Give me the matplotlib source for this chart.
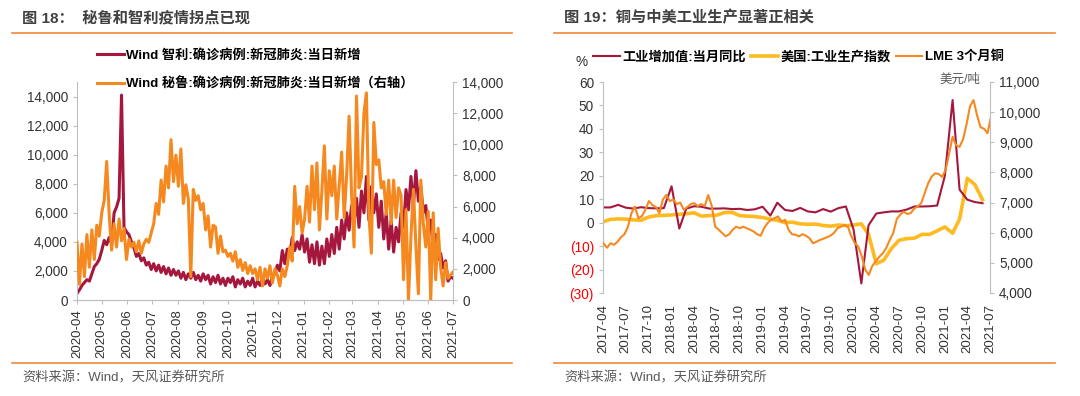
import pandas as pd
import matplotlib
matplotlib.use("Agg")
import matplotlib.pyplot as plt
import matplotlib.dates as mdates
from matplotlib.lines import Line2D
from matplotlib.ticker import FuncFormatter

plt.rcParams['font.family'] = ['Liberation Sans', 'Noto Sans CJK SC', 'DejaVu Sans']
plt.rcParams['axes.unicode_minus'] = False

# ---------------- data: left panel (every 3 days from 2020-04-01) ----------------
covid_start = "2020-04-01"
chile_daily = [
    450, 700, 1000, 1200, 1400, 1300, 1800, 2300, 2500, 2800,
    3400, 4100, 3800, 4300, 3900, 6000, 6400, 7000, 14100, 5000,
    4700, 4500, 4000, 3600, 3000, 3200, 2700, 2900, 2400, 2600,
    2100, 2500, 2000, 2400, 1900, 2300, 1800, 2200, 1700, 2100,
    1700, 2000, 1500, 1900, 1400, 1800, 1500, 1900, 1400, 1700,
    1300, 1800, 1400, 1700, 1100, 1600, 1200, 1700, 1100, 1500,
    1000, 1500, 1200, 1600, 900, 1400, 1100, 1500, 900, 1300,
    1000, 1500, 900, 1300, 1000, 1500, 1100, 1400, 1000, 1600,
    1800, 2400, 2000, 3400, 2500, 3500, 3100, 4300, 3400, 4000,
    3500, 4500, 3300, 4200, 2600, 3800, 2500, 4000, 2400, 3700,
    2500, 4200, 3000, 4500, 3200, 5000, 3500, 5500, 4200, 6000,
    4800, 6500, 5300, 7000, 5000, 7500, 6000, 8500, 5500, 7800,
    6000, 7300, 5000, 6800, 4200, 6000, 3500, 5500, 3300, 5000,
    4000, 6000, 5000, 7600, 6200, 8500, 6500, 8900, 6800, 7800,
    6000, 6500, 4800, 5500, 3500, 4500, 2800, 3200, 2200, 2700,
    1300, 1600, 1500,
]
peru_daily = [
    3700, 1000, 3600, 1500, 4200, 2100, 4500, 2600, 4800, 4100,
    5600, 6400, 8900, 5500, 3200, 4900, 3400, 5200, 3800, 4600,
    2600, 3900, 3400, 3700, 3100, 3800, 3000, 3600, 3900, 3700,
    4300, 4900, 6200, 5500, 7700, 6300, 8600, 7200, 10300, 7600,
    9300, 7300, 9700, 6200, 7400, 6500, 1500, 7100, 6400, 6700,
    5800, 6200, 4500, 5400, 3400, 4800, 4700, 3000, 4100, 3100,
    3200, 2800, 3000, 2500, 3100, 2100, 2600, 1900, 2400, 1700,
    2200, 1700, 2000, 1300, 2100, 900, 2000, 1400, 2200, 1100,
    2000, 1600, 900, 2000, 1500, 2200, 3400, 2500, 7300, 4900,
    6000, 4300, 5200, 7300, 5000, 8600, 5800, 8800, 4500, 7000,
    9900, 5200, 8300, 6700, 8600, 5200, 7400, 9500, 5300, 8000,
    11800, 6800, 3400, 13100, 7200, 7900, 12000, 13300, 5500, 3000,
    11400, 8700, 9000, 7200, 7600, 5500, 7700, 4900, 7700, 5300,
    7200, 6700, 1300, 5800, 0, 4100, 7100, 3500, 400, 7700,
    4900, 3400, 5700, 0, 5600, 1300, 4600, 2100, 900, 2400,
    1400, 1600, 1800,
]

# ---------------- data: right panel ----------------
month_start = "2017-04-01"
china_ip_yoy = [
    6.5, 6.5, 7.6, 6.4, 6.0, 6.6, 6.2, 6.1, 6.2,
    15.5, -2.5, 6.0, 7.0, 6.8, 6.0, 6.0, 6.1, 5.8, 5.9, 5.4, 5.7,
    6.8, 3.0, 8.5, 5.4, 5.0, 6.3, 4.8, 4.4, 5.8, 4.7, 6.2, 6.9,
    -3.0, -25.9, -1.1, 3.9, 4.4, 4.8, 4.8, 5.6, 6.9, 6.9, 7.0, 7.3,
    20.0, 52.3, 14.1, 9.8, 8.8, 8.3,
]
us_ip = [
    0.4, 1.4, 1.6, 1.5, 1.2, 1.0, 2.4, 3.0, 3.1,
    3.3, 3.6, 3.8, 4.2, 2.8, 3.0, 3.2, 4.3, 4.4, 3.0, 2.8, 2.6,
    2.2, 1.5, 1.0, 0.0, 0.2, -0.5, -0.7, -0.6, -1.2, -1.5, -1.0, -1.3,
    -1.0, -0.5, -5.0, -17.5, -16.0, -11.0, -7.5, -6.8, -6.6, -5.0, -5.0, -3.5,
    -1.8, -4.5, 1.5, 18.9, 16.3, 9.8,
]
copper_start = "2017-04-03"
lme_copper = [
    5650, 5500, 5650, 5600, 5700, 5850, 5950, 6200, 6650, 6870,
    6480, 6550, 6760, 7050, 6920, 6850, 6650, 7100, 7250, 7050,
    7100, 6950, 7000, 6760, 6850, 6950, 6980, 6880, 6950, 6880,
    7250, 6900, 6200, 6100, 5990, 5880, 5950, 6100, 6200, 6150,
    6200, 6150, 6100, 6040, 5950, 5900, 6150, 6320, 6430, 6480,
    6540, 6370, 6430, 6100, 5950, 5930, 5880, 5950, 5900, 5820,
    5650, 5700, 5760, 5800, 5850, 5900, 5990, 6150, 6200, 6260,
    6200, 5880, 5650, 5540, 5210, 4770, 4600, 4900, 5050, 5200,
    5320, 5500, 5760, 5990, 6450, 6600, 6700, 6620, 6650, 6800,
    6870, 6980, 7310, 7640, 7860, 7970, 7950, 7850, 8080, 8630,
    9180, 8900, 8850, 9100, 9600, 10200, 10400, 9900, 9500, 9450,
    9300, 9840,
]

covid_dates = pd.date_range(covid_start, periods=len(chile_daily), freq="3D")
month_dates = pd.date_range(month_start, periods=len(china_ip_yoy), freq="MS")
copper_dates = pd.date_range(copper_start, periods=len(lme_copper), freq="14D")

RED = "#A6173D"
ORANGE = "#F5891F"
YELLOW = "#FDBA21"
LINE_ORANGE = "#F0883A"
SPINE = "#BFBFBF"
TXT = "#333333"
FS = 9.8

fig = plt.figure(figsize=(10.8, 3.96), dpi=100)
W, H = 1080.0, 396.0


def fx(px):
    return px / W


def fy(py):
    return 1 - py / H


def style_axes(ax, bottom=True):
    ax.spines['top'].set_visible(False)
    for s in ['left', 'right', 'bottom']:
        ax.spines[s].set_color(SPINE)
        ax.spines[s].set_linewidth(0.8)
    if not bottom:
        ax.spines['bottom'].set_visible(False)
    ax.tick_params(axis='both', colors=SPINE, labelcolor=TXT, labelsize=FS, length=3, width=0.8)


thousands = FuncFormatter(lambda v, p: f"{int(v):,}")

# ---------------- left panel ----------------
ax1 = fig.add_axes([fx(77), fy(300), fx(453 - 77), (300 - 82) / H])
ax1r = ax1.twinx()
l1, = ax1.plot(covid_dates, chile_daily, color=RED, lw=2.2)
l2, = ax1r.plot(covid_dates, peru_daily, color=ORANGE, lw=2.2)
ax1.set_ylim(0, 15000)
ax1.set_yticks(range(0, 14001, 2000))
ax1r.set_ylim(0, 14000)
ax1r.set_yticks(range(0, 14001, 2000))
ax1.yaxis.set_major_formatter(thousands)
ax1r.yaxis.set_major_formatter(thousands)
ax1.set_xlim(pd.Timestamp("2020-04-01"), pd.Timestamp("2021-07-01"))
ax1.xaxis.set_major_locator(mdates.MonthLocator())
ax1.xaxis.set_major_formatter(mdates.DateFormatter("%Y-%m"))
for a in (ax1, ax1r):
    style_axes(a)
    a.spines['left'].set_visible(a is ax1)
    a.spines['right'].set_visible(a is ax1r)
ax1.tick_params(axis='x', labelsize=9.5)
for lbl in ax1.get_xticklabels():
    lbl.set_rotation(90)

fig.legend(handles=[l1, l2],
           labels=["Wind 智利:确诊病例:新冠肺炎:当日新增", "Wind 秘鲁:确诊病例:新冠肺炎:当日新增（右轴）"],
           loc="upper left", bbox_to_anchor=(fx(92), fy(43)), frameon=False,
           prop={'weight': 'bold', 'size': 9.5}, handlelength=2.0, handletextpad=0.2,
           labelspacing=1.25, borderaxespad=0)

# ---------------- right panel ----------------
ax2 = fig.add_axes([fx(603), fy(293), fx(990 - 603), (293 - 82) / H])
ax2r = ax2.twinx()
r1, = ax2.plot(month_dates, us_ip, color=YELLOW, lw=2.6)
r0, = ax2.plot(month_dates, china_ip_yoy, color=RED, lw=1.5)
r2, = ax2r.plot(copper_dates, lme_copper, color=ORANGE, lw=1.5)
ax2.set_ylim(-30, 60)
yt = list(range(-30, 61, 10))
ax2.set_yticks(yt, labels=[f"({-v})" if v < 0 else str(v) for v in yt])
ax2r.set_ylim(4000, 11000)
ax2r.set_yticks(range(4000, 11001, 1000))
ax2r.yaxis.set_major_formatter(thousands)
ax2.set_xlim(pd.Timestamp("2017-04-01"), pd.Timestamp("2021-07-01"))
ax2.xaxis.set_major_locator(mdates.MonthLocator(bymonth=[1, 4, 7, 10]))
ax2.xaxis.set_major_formatter(mdates.DateFormatter("%Y-%m"))
for a in (ax2, ax2r):
    style_axes(a, bottom=False)
    a.spines['left'].set_visible(a is ax2)
    a.spines['right'].set_visible(a is ax2r)
for lbl, v in zip(ax2.get_yticklabels(), yt):
    if v < 0:
        lbl.set_color("#FF0000")
ax2.tick_params(axis='x', length=0, pad=8, labelsize=9.5)
for lbl in ax2.get_xticklabels():
    lbl.set_rotation(90)

fig.legend(handles=[r0, r1, r2],
           labels=["工业增加值:当月同比", "美国:工业生产指数", "LME 3个月铜"],
           loc="upper left", bbox_to_anchor=(fx(588), fy(45)), frameon=False, ncol=3,
           prop={'weight': 'bold', 'size': 9.5}, handlelength=2.0, handletextpad=0.2,
           columnspacing=0.4, borderaxespad=0)
fig.text(fx(582), fy(62), "%", ha="center", va="center", fontsize=FS, color=TXT)
fig.text(fx(960), fy(80), "美元/吨", ha="center", va="center", fontsize=9, color="#595959")

# ---------------- titles, rules, source ----------------
for x0, x1, title in [(12, 512, "图 18：  秘鲁和智利疫情拐点已现"), (554, 1055, "图 19：铜与中美工业生产显著正相关")]:
    fig.text(fx(x0 + 10), fy(18), title, ha="left", va="center", fontsize=11,
             fontweight="bold", color="#404040")
    fig.add_artist(Line2D([fx(x0), fx(x1)], [fy(33), fy(33)], color=LINE_ORANGE, lw=1.2))
    fig.add_artist(Line2D([fx(x0), fx(x1)], [fy(363), fy(363)], color=LINE_ORANGE, lw=1.2))
    fig.text(fx(x0 + 10), fy(378), "资料来源：Wind，天风证券研究所", ha="left", va="center",
             fontsize=9.5, color="#595959")

fig.savefig("out.png", dpi=100)
